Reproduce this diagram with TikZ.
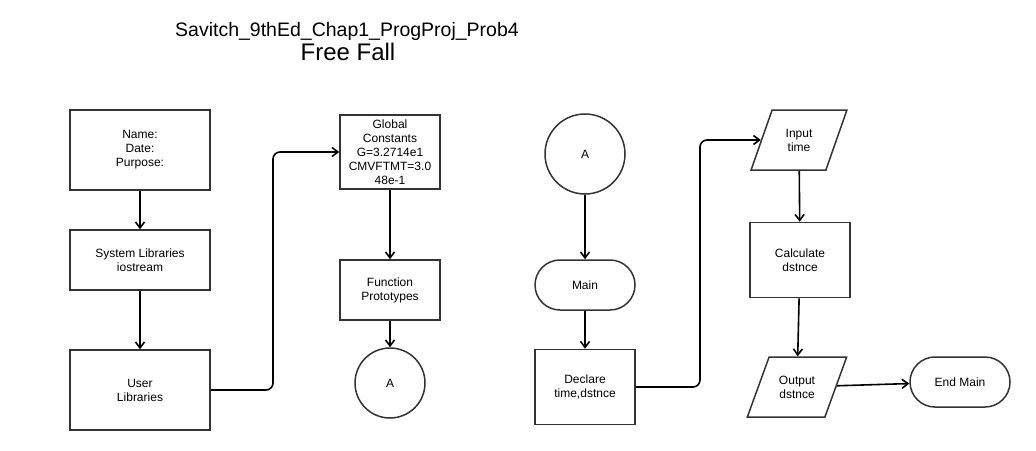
\documentclass[tikz,border=0pt]{standalone}
\usepackage{fontspec}
\setmainfont{Liberation Sans}
\usetikzlibrary{arrows.meta,shapes.geometric}
\definecolor{boxgray}{HTML}{333333}
\newcommand\flowfont{\fontsize{12}{14}\selectfont}

\begin{document}
\begin{tikzpicture}[
x=1pt, y=-1pt,
box/.style={draw=boxgray, line width=1.5pt, minimum width=140pt, inner sep=0pt, align=center, font=\flowfont},
terminal/.style={box, rounded corners=25pt, minimum width=100pt, minimum height=50pt},
connector/.style={draw=boxgray, line width=1.5pt, circle, inner sep=0pt, font=\flowfont},
io/.style={box, trapezium, trapezium left angle=65, trapezium right angle=115, trapezium stretches, minimum width=96pt, minimum height=60pt},
arrow/.style={-{Straight Barb[length=6pt,width=9pt]}, line width=1.6pt},
link/.style={arrow, rounded corners=7pt}
]
\useasboundingbox (0,0) rectangle (1036,450);

% titles
\node[font=\fontsize{19.5}{21}\selectfont] (title) at (347,31) {Savitch\_9thEd\_Chap1\_ProgProj\_Prob4};
\node[font=\fontsize{24}{26}\selectfont] (subtitle) at (348,52) {Free Fall};

% left column
\node[box, minimum height=80pt] (header) at (140,150) {Name:\\Date:\\Purpose:};
\node[box, minimum height=60pt] (syslib) at (140,260) {System Libraries\\iostream};
\node[box, minimum height=80pt] (userlib) at (140,390) {User\\Libraries};

% second column
\node[box, minimum width=100pt, minimum height=74pt] (global) at (390,152) {Global\\Constants\\G=3.2714e1\\CMVFTMT=3.0\\48e-1};
\node[box, minimum width=100pt, minimum height=60pt] (protos) at (390,290) {Function\\Prototypes};
\node[connector, minimum size=70pt] (conA) at (390,383) {A};

% main
\node[connector, minimum size=80pt] (conB) at (585,154) {A};
\node[terminal] (main) at (585,285) {Main};
\node[box, minimum width=100pt, minimum height=75pt] (declare) at (585,387) {Declare\\time,dstnce};

\node[io] (input) at (799,140) {Input\\time};
\node[box, minimum width=100pt, minimum height=75pt] (calc) at (800,260) {Calculate\\dstnce};
\node[io, trapezium left angle=58, trapezium right angle=122, minimum width=100pt] (output) at (797,387) {Output\\dstnce};
\node[terminal] (endmain) at (960,382) {End Main};

\coordinate (bendA) at (273,0);
\coordinate (bendB) at (700,0);

\draw[arrow] (header) -- (syslib);
\draw[arrow] (syslib) -- (userlib);
\draw[link] (userlib.east) -| (bendA |- global.west) -- (global.west);
\draw[arrow] (global) -- (protos);
\draw[arrow] (protos) -- (conA);

\draw[arrow] (conB) -- (main);
\draw[arrow] (main) -- (declare);
\draw[link] (declare.east) -| (bendB |- input.west) -- (input.west);
\draw[arrow] (input) -- (calc);
\draw[arrow] (calc) -- (output);
\draw[arrow] (output) -- (endmain);

\end{tikzpicture}
\end{document}
